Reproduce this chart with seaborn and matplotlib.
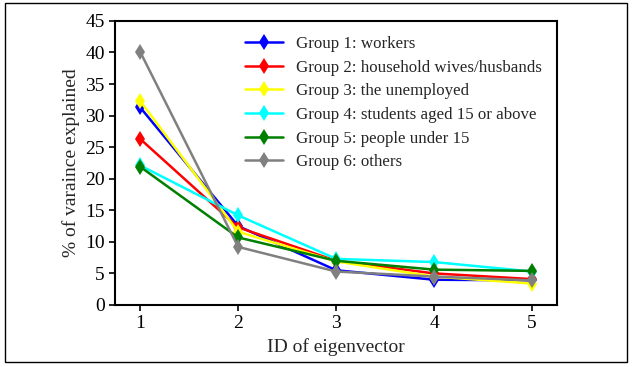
import numpy as np
import pandas as pd
import matplotlib
matplotlib.use('Agg')
import matplotlib.pyplot as plt
import seaborn as sns

sns.set_style('ticks')
plt.rcParams['font.family'] = ['Liberation Serif', 'DejaVu Serif']

eigen_id = [1, 2, 3, 4, 5]
groups = ['Group 1: workers', 'Group 2: household wives/husbands',
          'Group 3: the unemployed', 'Group 4: students aged 15 or above',
          'Group 5: people under 15', 'Group 6: others']
g1 = [31.3, 12.5, 5.5, 4.0, 3.9]
g2 = [26.3, 12.3, 7.0, 5.0, 4.1]
g3 = [32.3, 11.6, 6.9, 4.5, 3.4]
g4 = [22.1, 14.2, 7.3, 6.8, 5.3]
g5 = [21.9, 10.7, 7.0, 5.6, 5.4]
g6 = [40.1, 9.2, 5.3, 4.5, 3.9]
colors = ['blue', 'red', 'yellow', 'cyan', 'green', 'gray']

df = pd.DataFrame({'id': eigen_id * 6,
                   'group': np.repeat(groups, 5),
                   'value': g1 + g2 + g3 + g4 + g5 + g6})

fig = plt.figure(figsize=(6.33, 3.67), dpi=100)
ax = fig.add_axes([0.182, 0.169, 0.698, 0.774])
sns.lineplot(data=df, x='id', y='value', hue='group', palette=colors,
             marker='d', markersize=8.5, markeredgewidth=0, linewidth=1.8, ax=ax)

ax.set_xlim(0.745, 5.255)
ax.set_ylim(0, 45)
ax.set_xticks(eigen_id)
ax.set_yticks(np.arange(0, 46, 5))
ax.tick_params(labelsize=14, width=1.2, length=4, colors='black')
for s in ax.spines.values():
    s.set_linewidth(1.5)
    s.set_color('black')
ax.set_xlabel('ID of eigenvector', fontsize=14)
ax.set_ylabel('% of varaince explained', fontsize=14)
ax.legend(title=None, frameon=False, fontsize=12.2, loc='upper left',
          bbox_to_anchor=(0.26, 1.0), handlelength=2.2, labelspacing=0.45)

fig.add_artist(plt.Rectangle((0.008, 0.013), 0.982, 0.978, transform=fig.transFigure,
                             fill=False, edgecolor='black', linewidth=1))
fig.savefig('out.png', dpi=100)
